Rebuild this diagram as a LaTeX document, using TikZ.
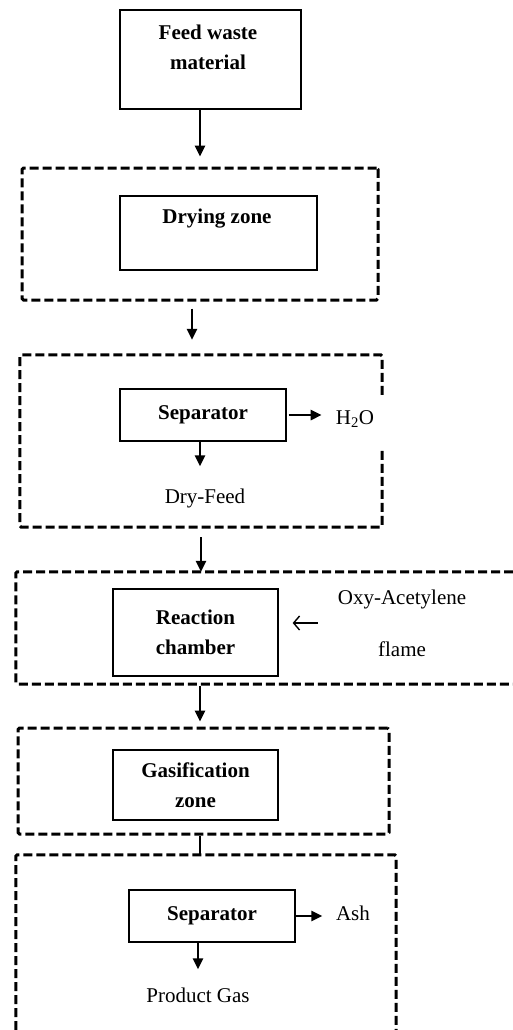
\documentclass[tikz,border=0pt]{standalone}
\usepackage{fontspec}
\setmainfont{Liberation Serif}
\usetikzlibrary{arrows.meta,calc}
\begin{document}
\begin{tikzpicture}[x=1pt,y=-1pt,
  every node/.style={font=\fontsize{21}{30}\selectfont, inner sep=0pt},
  solidbox/.style={draw, line width=1.3pt, inner sep=0pt},
  zone/.style={line width=3pt, dash pattern=on 9pt off 4pt, rounded corners=1.5pt},
  zonearea/.style={inner sep=0pt},
  btext/.style={font=\bfseries\fontsize{21}{30}\selectfont, align=center},
  rtext/.style={align=center},
  arr/.style={line width=2.5pt, -{Triangle[length=11pt,width=10pt]}},
  thinarr/.style={line width=1.4pt, -{Straight Barb[length=6pt,width=14pt]}},
  link/.style={line width=2.8pt}]
\useasboundingbox (0,0) rectangle (513,1030);

% Feed
\node[solidbox, minimum width=181pt, minimum height=99pt] (feed) at (210.5,59.5) {};
\node[btext] (feedtext) at (208,47) {Feed waste\\material};

% Drying zone
\node[draw, zone, minimum width=356pt, minimum height=132pt] (zone1) at (200,234) {};
\node[solidbox, minimum width=197pt, minimum height=74pt] (dry) at (218.5,233) {};
\node[btext] (drytext) at (217,219) {Drying zone};

% Separator zone
\node[zonearea, minimum width=362pt, minimum height=172pt] (zone2) at (201,441) {};
\draw[zone] ([yshift=-40pt]zone2.north east) -- (zone2.north east) -- (zone2.north west)
  -- (zone2.south west) -- (zone2.south east) -- ([yshift=80pt]zone2.south east);
\node[solidbox, btext, minimum width=166pt, minimum height=52pt] (sep1) at (203,415) {Separator};
\node[rtext] (h2o) at (355,419) {H\textsubscript{2}O};
\node[rtext] (dryfeed) at (205,498) {Dry-Feed};

% Reaction zone
\node[zonearea, minimum width=497pt, minimum height=112pt] (zone3) at (264.5,628) {};
\draw[zone] (zone3.north east) -- (zone3.north west) -- (zone3.south west) -- (zone3.south east);
\node[solidbox, btext, minimum width=165pt, minimum height=87pt] (react) at (195.5,632.5) {Reaction\\chamber};
\node[rtext] (oxy) at (402,623) {Oxy-Acetylene\\[22pt]flame};

% Gasification zone
\node[draw, zone, minimum width=371pt, minimum height=106pt] (zone4) at (203.5,781) {};
\node[solidbox, btext, minimum width=165pt, minimum height=70pt] (gas) at (195.5,785) {Gasification\\zone};

% Final separator zone
\node[zonearea, minimum width=380pt, minimum height=175pt] (zone5) at (206,942.5) {};
\draw[zone] (zone5.south west) -- (zone5.north west) -- (zone5.north east) -- (zone5.south east);
\node[solidbox, btext, minimum width=166pt, minimum height=52pt] (sep2) at (212,916) {Separator};
\node[rtext] (ash) at (353,913) {Ash};
\node[rtext] (pg) at (198,995) {Product Gas};

% helper coordinates
\coordinate (c2) at ([xshift=-8pt]zone1.south);
\coordinate (c1) at ([xshift=-3pt]sep1.south);
\coordinate (c4) at ([xshift=-3.5pt]zone4.north);
\coordinate (c5) at ([xshift=-3.5pt]zone4.south);

% connectors
\draw[arr, shorten >=10pt] (feed.south -| zone1.north) -- (zone1.north);
\draw[arr, shorten <=7pt, shorten >=15pt] (c2) -- (c2 |- zone2.north);
\draw[arr, shorten <=2pt, shorten >=14pt] (sep1.east) -- (sep1.east -| h2o.west);
\draw[arr, shorten >=22pt] (c1) -- (c1 |- dryfeed.north);
\draw[arr, shorten <=10pt] (zone2.south) -- (zone2.south |- zone3.north);
\draw[thinarr, shorten <=20pt, shorten >=14pt] (oxy.west) -- (oxy.west -| react.east);
\draw[arr, shorten <=2pt, shorten >=5pt] (c4 |- zone3.south) -- (c4);
\draw[link] (c5) -- (c5 |- zone5.north);
\draw[arr, shorten >=13.5pt] (sep2.east) -- (sep2.east -| ash.west);
\draw[arr, shorten >=18pt] (pg.north |- sep2.south) -- (pg.north);
\end{tikzpicture}
\end{document}
